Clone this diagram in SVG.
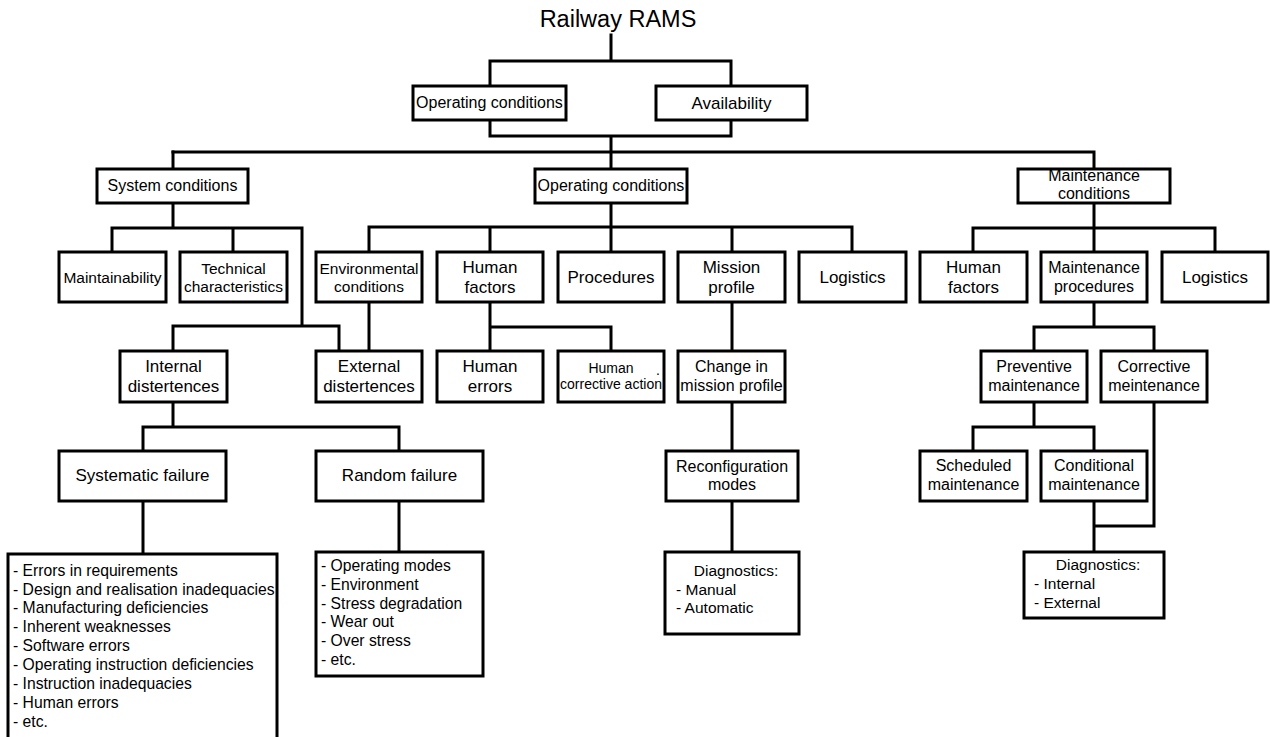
<svg xmlns="http://www.w3.org/2000/svg" width="1270" height="737" viewBox="0 0 1270 737">
<style>
.b{fill:#fff;stroke:#000;stroke-width:3}
.c{fill:none;stroke:#000;stroke-width:3;stroke-linecap:square}
text{font-family:"Liberation Sans",Arial,sans-serif;fill:#000}
.m{text-anchor:middle}
.f17{font-size:17px}.f16{font-size:16px}.f15{font-size:15.5px}.f14{font-size:14px}.fl{font-size:15.7px}
</style>
<rect width="1270" height="737" fill="#fff"/>
<text x="618" y="27" class="m" font-size="23.5">Railway RAMS</text>
<g id="connectors">
<path class="c" d="M611 35V61M490 61H731M490 61V86M731 61V86M490 120V136H731V120M611 136V169"/>
<path class="c" d="M173 152H1094V169" stroke-width="2.5"/>
<path class="c" d="M173 152V169"/>
<path class="c" d="M173 203V228M112 228H302M112 228V252M233 228V252M302 228V326M173 326H339M173 326V351M339 326V351M369 302V351"/>
<path class="c" d="M173 402V427M143 427H399M143 427V451M399 427V451M143 501V554M399 501V552"/>
<path class="c" d="M611 203V227M369 227H852M369 227V252M490 227V252M611 227V252M732 227V252M852 227V252"/>
<path class="c" d="M490 302V327H611V351M490 327V351"/>
<path class="c" d="M732 302V351M732 402V451M732 501V552"/>
<path class="c" d="M1094 203V228M973 228H1215M973 228V252M1094 228V252M1215 228V252"/>
<path class="c" d="M1094 302V327M1034 327H1154M1034 327V351M1154 327V351"/>
<path class="c" d="M1034 402V427M973 427H1094M973 427V451M1094 427V451"/>
<path class="c" d="M1154 402V526H1094M1094 501V552"/>
</g>
<g id="n_top_oc"><rect class="b" x="413" y="86" width="153" height="34"/><text x="489.5" y="108" class="m f16">Operating conditions</text></g>
<g id="n_availability"><rect class="b" x="656" y="86" width="151" height="34"/><text x="731.5" y="109" class="m f17">Availability</text></g>
<g id="n_system_conditions"><rect class="b" x="97" y="169" width="151" height="34"/><text x="172.5" y="191" class="m f16">System conditions</text></g>
<g id="n_operating_conditions"><rect class="b" x="535" y="169" width="152" height="34"/><text x="611" y="191" class="m f16">Operating conditions</text></g>
<g id="n_maintenance_conditions"><rect class="b" x="1018" y="169" width="152" height="34"/><text x="1094" y="181" class="m f16">Maintenance</text><text x="1094" y="199" class="m f16">conditions</text></g>
<g id="n_maintainability"><rect class="b" x="59" y="252" width="107" height="50"/><text x="112.5" y="283" class="m f15">Maintainability</text></g>
<g id="n_technical"><rect class="b" x="180" y="252" width="107" height="50"/><text x="233.5" y="274" class="m f15">Technical</text><text x="233.5" y="292" class="m f15">characteristics</text></g>
<g id="n_environmental"><rect class="b" x="316" y="252" width="106" height="50"/><text x="369" y="274" class="m f15">Environmental</text><text x="369" y="292" class="m f15">conditions</text></g>
<g id="n_human_factors"><rect class="b" x="437" y="252" width="106" height="50"/><text x="490" y="273" class="m f17">Human</text><text x="490" y="293" class="m f17">factors</text></g>
<g id="n_procedures"><rect class="b" x="558" y="252" width="106" height="50"/><text x="611" y="283" class="m f17">Procedures</text></g>
<g id="n_mission_profile"><rect class="b" x="678" y="252" width="107" height="50"/><text x="731.5" y="273" class="m f17">Mission</text><text x="731.5" y="293" class="m f17">profile</text></g>
<g id="n_logistics"><rect class="b" x="799" y="252" width="107" height="50"/><text x="852.5" y="283" class="m f17">Logistics</text></g>
<g id="n_human_factors2"><rect class="b" x="920" y="252" width="107" height="50"/><text x="973.5" y="273" class="m f17">Human</text><text x="973.5" y="293" class="m f17">factors</text></g>
<g id="n_maintenance_procedures"><rect class="b" x="1041" y="252" width="106" height="50"/><text x="1094" y="273" class="m f16">Maintenance</text><text x="1094" y="292" class="m f16">procedures</text></g>
<g id="n_logistics2"><rect class="b" x="1162" y="252" width="106" height="50"/><text x="1215" y="283" class="m f17">Logistics</text></g>
<g id="n_internal"><rect class="b" x="120" y="351" width="107" height="51"/><text x="173.5" y="372" class="m f17">Internal</text><text x="173.5" y="392" class="m f17">distertences</text></g>
<g id="n_external"><rect class="b" x="316" y="351" width="106" height="51"/><text x="369" y="372" class="m f17">External</text><text x="369" y="392" class="m f17">distertences</text></g>
<g id="n_human_errors"><rect class="b" x="437" y="351" width="106" height="51"/><text x="490" y="372" class="m f17">Human</text><text x="490" y="392" class="m f17">errors</text></g>
<g id="n_human_corrective"><rect class="b" x="558" y="351" width="106" height="51"/><text x="611" y="373" class="m f14">Human</text><text x="611" y="389" class="m f14">corrective action</text><text x="656" y="375" class="f14">.</text></g>
<g id="n_change_mission"><rect class="b" x="678" y="351" width="107" height="51"/><text x="731.5" y="372" class="m f16">Change in</text><text x="731.5" y="391" class="m f16">mission profile</text></g>
<g id="n_preventive"><rect class="b" x="981" y="351" width="106" height="51"/><text x="1034" y="372" class="m f16">Preventive</text><text x="1034" y="391" class="m f16">maintenance</text></g>
<g id="n_corrective"><rect class="b" x="1101" y="351" width="106" height="51"/><text x="1154" y="372" class="m f16">Corrective</text><text x="1154" y="391" class="m f16">meintenance</text></g>
<g id="n_systematic"><rect class="b" x="59" y="451" width="167" height="50"/><text x="142.5" y="481" class="m f17">Systematic failure</text></g>
<g id="n_random"><rect class="b" x="316" y="451" width="167" height="50"/><text x="399.5" y="481" class="m f17">Random failure</text></g>
<g id="n_reconfiguration"><rect class="b" x="666" y="451" width="132" height="50"/><text x="732" y="472" class="m f16">Reconfiguration</text><text x="732" y="490" class="m f16">modes</text></g>
<g id="n_scheduled"><rect class="b" x="920" y="451" width="107" height="50"/><text x="973.5" y="471" class="m f16">Scheduled</text><text x="973.5" y="490" class="m f16">maintenance</text></g>
<g id="n_conditional"><rect class="b" x="1041" y="451" width="106" height="50"/><text x="1094" y="471" class="m f16">Conditional</text><text x="1094" y="490" class="m f16">maintenance</text></g>
<g id="n_systematic_list"><rect class="b" x="8" y="554" width="269" height="200"/>
<text class="fl" x="13" y="576">- Errors in requirements</text>
<text class="fl" x="13" y="595">- Design and realisation inadequacies</text>
<text class="fl" x="13" y="613">- Manufacturing deficiencies</text>
<text class="fl" x="13" y="632">- Inherent weaknesses</text>
<text class="fl" x="13" y="651">- Software errors</text>
<text class="fl" x="13" y="670">- Operating instruction deficiencies</text>
<text class="fl" x="13" y="689">- Instruction inadequacies</text>
<text class="fl" x="13" y="708">- Human errors</text>
<text class="fl" x="13" y="727">- etc.</text></g>
<g id="n_random_list"><rect class="b" x="316" y="552" width="167" height="124"/>
<text class="fl" x="321" y="571">- Operating modes</text>
<text class="fl" x="321" y="590">- Environment</text>
<text class="fl" x="321" y="609">- Stress degradation</text>
<text class="fl" x="321" y="627">- Wear out</text>
<text class="fl" x="321" y="646">- Over stress</text>
<text class="fl" x="321" y="665">- etc.</text></g>
<g id="n_diagnostics1"><rect class="b" x="665" y="552" width="134" height="82"/>
<text class="m f15" x="736" y="576">Diagnostics:</text>
<text class="f15" x="676" y="595">- Manual</text>
<text class="f15" x="676" y="613">- Automatic</text></g>
<g id="n_diagnostics2"><rect class="b" x="1024" y="552" width="140" height="66"/>
<text class="m f15" x="1098" y="570">Diagnostics:</text>
<text class="f15" x="1034" y="589">- Internal</text>
<text class="f15" x="1034" y="608">- External</text></g>
</svg>
